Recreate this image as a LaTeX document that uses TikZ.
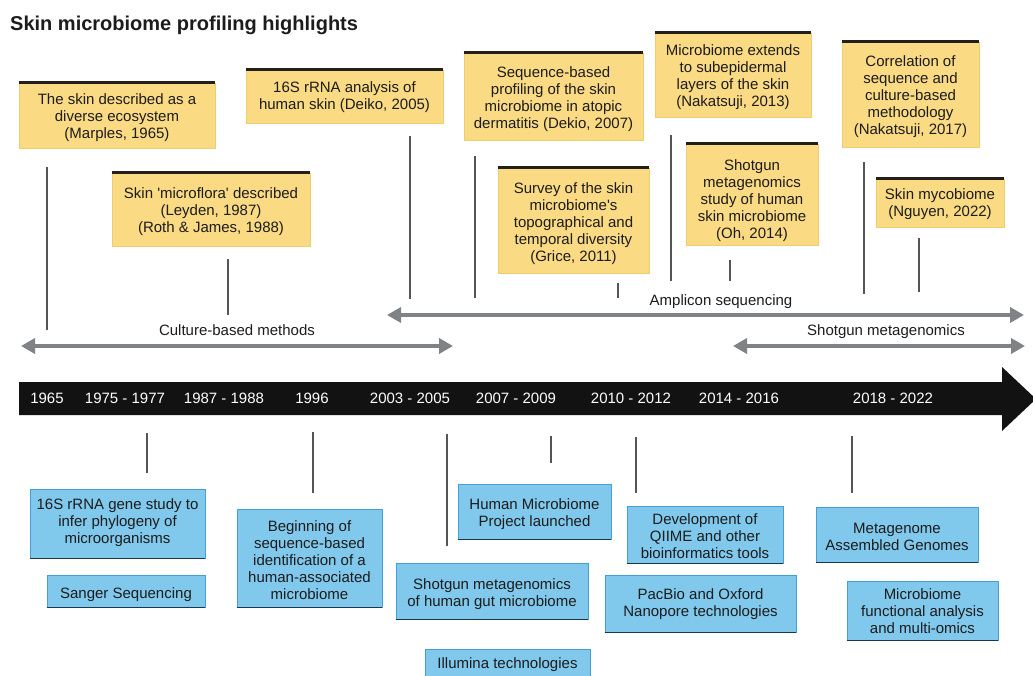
\documentclass[tikz,border=0pt]{standalone}
\usepackage{fontspec}
\setmainfont{Liberation Sans}
\usetikzlibrary{arrows.meta}

\definecolor{yfill}{RGB}{250,218,130}
\definecolor{yedge}{RGB}{238,204,112}
\definecolor{ytop}{RGB}{35,32,25}
\definecolor{bfill}{RGB}{128,200,236}
\definecolor{bedge}{RGB}{66,160,214}
\definecolor{bbot}{RGB}{25,55,80}
\definecolor{spanc}{RGB}{128,131,134}
\definecolor{tickc}{RGB}{85,85,85}
\definecolor{ink}{RGB}{28,28,28}
\definecolor{barc}{RGB}{18,18,18}

\newcommand{\evfont}{\fontsize{15}{17}\selectfont}

\tikzset{
  evtxt/.style={align=center, font=\evfont, text=ink, inner sep=0pt, yshift=-1.5pt},
  ybox/.style={rectangle, fill=yfill, draw=yedge, line width=0.6pt, inner sep=0pt},
  bbox/.style={rectangle, fill=bfill, draw=bedge, line width=0.8pt, inner sep=0pt},
  ybar/.style={draw=ytop, line width=2.4pt},
  bbar/.style={draw=bbot, line width=1.8pt},
  tickln/.style={draw=tickc, line width=1.4pt},
  spanarrow/.style={draw=spanc, line width=4.5pt,
    {Triangle[length=14pt,width=15pt]}-{Triangle[length=14pt,width=15pt]}},
  yeartxt/.style={font=\evfont, text=white, inner sep=0pt},
  spanlbl/.style={font=\evfont, text=ink, inner sep=0pt},
}

% event box: style, name, x1, y1, x2, y2, text centre y, text
\newcommand{\evbox}[8]{%
  \node[#1, minimum width={#5-#3}, minimum height={#6-#4}] (#2) at ({(#3+#5)/2},{(#4+#6)/2}) {};
  \node[evtxt] (#2t) at ({(#3+#5)/2},#7) {#8};
}
% vertical tick: name, x, y top, y bottom
\newcommand{\tickln}[4]{%
  \coordinate (#1a) at (#2,#3);
  \coordinate (#1b) at (#2,#4);
  \draw[tickln] (#1a) -- (#1b);
}

\begin{document}
\begin{tikzpicture}[x=1pt,y=-1pt]
\fill[white] (0,0) rectangle (1033,676);
\useasboundingbox (0,0) rectangle (1033,676);

% title
\node[anchor=base west, inner sep=0pt, text=ink,
      font=\fontsize{20}{24}\selectfont\bfseries] (title) at (10,30.5)
  {Skin microbiome profiling highlights};

% skin findings (above the timeline)
\evbox{ybox}{y1}{19}{83}{215}{148}{116}{The skin described as a\\diverse ecosystem\\(Marples, 1965)}
\evbox{ybox}{y2}{112}{173}{310}{246}{210}{Skin \textquotesingle microflora\textquotesingle\ described\\(Leyden, 1987)\\(Roth \& James, 1988)}
\evbox{ybox}{y3}{246}{70}{443}{123}{96}{16S rRNA analysis of\\human skin (Deiko, 2005)}
\evbox{ybox}{y4}{464}{53}{643}{140}{98}{Sequence-based\\profiling of the skin\\microbiome in atopic\\dermatitis (Dekio, 2007)}
\evbox{ybox}{y5}{498}{168}{649}{273}{222.5}{Survey of the skin\\microbiome\textquotesingle s\\topographical and\\temporal diversity\\(Grice, 2011)}
\evbox{ybox}{y6}{655}{33}{811}{117}{75.5}{Microbiome extends\\to subepidermal\\layers of the skin\\(Nakatsuji, 2013)}
\evbox{ybox}{y7}{686}{144}{818}{245}{199}{Shotgun\\metagenomics\\study of human\\skin microbiome\\(Oh, 2014)}
\evbox{ybox}{y8}{842}{42}{979}{147}{95.5}{Correlation of\\sequence and\\culture-based\\methodology\\(Nakatsuji, 2017)}
\evbox{ybox}{y9}{876}{179}{1004}{227}{202.5}{Skin mycobiome\\(Nguyen, 2022)}
\foreach \n in {y1,y2,y3,y4,y5,y6,y7,y8,y9}
  \draw[ybar] (\n.north west) -- (\n.north east);

% ticks above the timeline
\tickln{ka}{47}{167}{330}
\tickln{kb}{228}{259}{315}
\tickln{kc}{410}{136}{299}
\tickln{kd}{475}{156}{298}
\tickln{ke}{618}{283}{298}
\tickln{kf}{671}{135}{281}
\tickln{kg}{730}{260}{281}
\tickln{kh}{864}{162}{294}
\tickln{ki}{919}{238}{292}

% method spans
\coordinate (cul1) at (21,346);  \coordinate (cul2) at (453,346);
\coordinate (amp1) at (387,315); \coordinate (amp2) at (1024,315);
\coordinate (sho1) at (733,346); \coordinate (sho2) at (1025,346);
\draw[spanarrow] (cul1) -- (cul2);
\draw[spanarrow] (amp1) -- (amp2);
\draw[spanarrow] (sho1) -- (sho2);
\node[spanlbl] (cull) at (237,330) {Culture-based methods};
\node[spanlbl] (ampl) at (721,302) {Amplicon sequencing};
\node[spanlbl] (shol) at (886,332) {Shotgun metagenomics};

% timeline bar
\fill[barc] (19,382) -- (1002,382) -- (1002,367) -- (1036,399)
  -- (1002,431) -- (1002,415) -- (19,415) -- cycle;
\node[yeartxt] (d1) at (47,398)  {1965};
\node[yeartxt] (d2) at (125,398) {1975 - 1977};
\node[yeartxt] (d3) at (224,398) {1987 - 1988};
\node[yeartxt] (d4) at (312,398) {1996};
\node[yeartxt] (d5) at (410,398) {2003 - 2005};
\node[yeartxt] (d6) at (516,398) {2007 - 2009};
\node[yeartxt] (d7) at (631,398) {2010 - 2012};
\node[yeartxt] (d8) at (739,398) {2014 - 2016};
\node[yeartxt] (d9) at (893,398) {2018 - 2022};

% ticks below the timeline
\tickln{la}{147}{433}{473}
\tickln{lb}{313}{432}{493}
\tickln{lc}{447}{434}{546}
\tickln{ld}{551}{436}{463}
\tickln{le}{636}{437}{493}
\tickln{lf}{852}{436}{493}

% technology milestones (below the timeline)
\evbox{bbox}{b1}{30}{489}{205}{558}{521.5}{16S rRNA gene study to\\infer phylogeny of\\microorganisms}
\evbox{bbox}{b2}{47}{575}{205}{607}{593}{Sanger Sequencing}
\evbox{bbox}{b3}{237}{509}{382}{607}{558.5}{Beginning of\\sequence-based\\identification of a\\human-associated\\microbiome}
\evbox{bbox}{b4}{396}{563}{588}{619}{592.5}{Shotgun metagenomics\\of human gut microbiome}
\evbox{bbox}{b5}{425}{649}{590}{681}{663}{Illumina technologies}
\evbox{bbox}{b6}{458}{484}{611}{539}{512.5}{Human Microbiome\\Project launched}
\evbox{bbox}{b7}{627}{506}{783}{563}{535}{Development of\\QIIME and other\\bioinformatics tools}
\evbox{bbox}{b8}{605}{575}{796}{632}{603}{PacBio and Oxford\\Nanopore technologies}
\evbox{bbox}{b9}{816}{507}{978}{562}{535.5}{Metagenome\\Assembled Genomes}
\evbox{bbox}{b10}{847}{581}{998}{640}{610}{Microbiome\\functional analysis\\and multi-omics}
\foreach \n in {b1,b2,b3,b4,b6,b7,b8,b9,b10}
  \draw[bbar] (\n.south west) -- (\n.south east);
\end{tikzpicture}
\end{document}
